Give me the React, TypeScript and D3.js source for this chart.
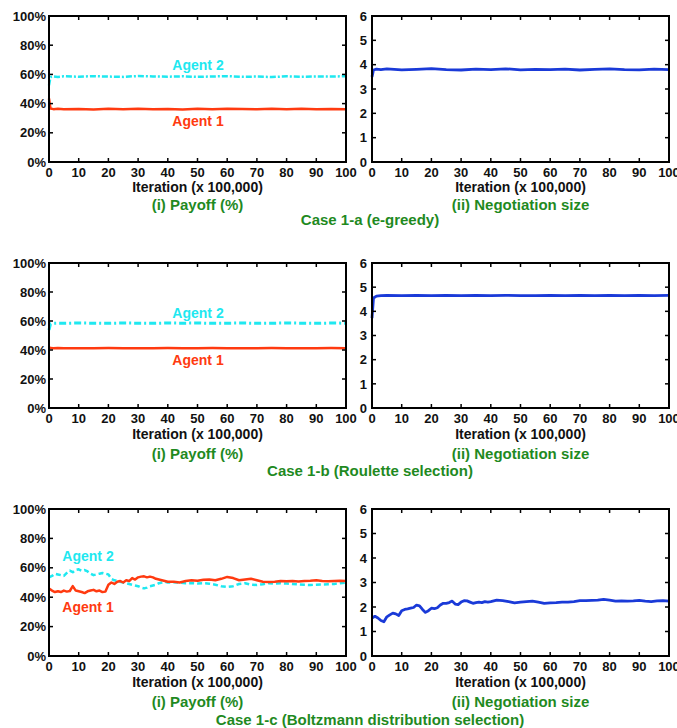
import React from "react";
import * as d3 from "d3";

// ---------- data ----------
const ITER_TICKS = [0, 10, 20, 30, 40, 50, 60, 70, 80, 90, 100];
const PAYOFF_TICKS = [0, 20, 40, 60, 80, 100];
const SIZE_TICKS = [0, 1, 2, 3, 4, 5, 6];

const X_FLAT = [0, 0.5, 1.5, 3, 5, 10, 15, 20, 25, 30, 35, 40, 45, 50, 55, 60, 65, 70, 75, 80, 85, 90, 95, 100];

// Case 1-a
const A1_AGENT1 = [43.5, 36.6, 36.2, 36.4, 36.1, 36.3, 36.0, 36.4, 36.2, 36.5, 36.1, 36.3, 36.0, 36.4, 36.2, 36.5, 36.3, 36.1, 36.4, 36.2, 36.5, 36.2, 36.3, 36.1];
const A1_AGENT2 = [52.5, 58.2, 58.6, 58.3, 58.7, 58.4, 58.8, 58.5, 58.3, 58.9, 58.6, 58.4, 58.7, 58.3, 58.6, 58.8, 58.4, 58.5, 58.2, 58.7, 58.4, 58.6, 58.5, 58.8];
const A1_SIZE = [3.5, 3.78, 3.82, 3.8, 3.83, 3.79, 3.81, 3.84, 3.8, 3.78, 3.82, 3.8, 3.83, 3.79, 3.81, 3.8, 3.82, 3.78, 3.81, 3.83, 3.8, 3.79, 3.82, 3.8];

// Case 1-b
const B1_AGENT1 = [41.8, 41.3, 41.2, 41.3, 41.2, 41.25, 41.2, 41.3, 41.2, 41.25, 41.2, 41.3, 41.2, 41.25, 41.3, 41.2, 41.25, 41.2, 41.3, 41.2, 41.25, 41.2, 41.3, 41.2];
const B1_AGENT2 = [53.8, 58.0, 58.4, 58.5, 58.4, 58.6, 58.5, 58.4, 58.6, 58.5, 58.4, 58.6, 58.5, 58.6, 58.4, 58.5, 58.6, 58.4, 58.5, 58.6, 58.5, 58.4, 58.6, 58.5];
const B1_SIZE = [3.72, 4.55, 4.63, 4.65, 4.66, 4.65, 4.66, 4.65, 4.66, 4.65, 4.66, 4.65, 4.66, 4.65, 4.65, 4.66, 4.65, 4.66, 4.65, 4.66, 4.65, 4.66, 4.65, 4.66];

// Case 1-c
const X_C = [
  0, 1, 2, 3, 4, 5, 6, 7, 8, 9, 10, 11, 12, 13, 14, 15, 16, 17, 18, 19, 20,
  21, 22, 23, 24, 25, 26, 27, 28, 29, 30, 31, 32, 33, 34, 35, 36, 37, 38, 39, 40,
  42, 44, 46, 48, 50, 52, 54, 56, 58, 60, 62, 64, 66, 68, 70, 72, 74, 76, 78, 80,
  82, 84, 86, 88, 90, 92, 94, 96, 98, 100,
];
const C1_AGENT1 = [
  46, 44.5, 43.5, 44, 43.5, 44.5, 43.8, 44.2, 47.5, 44.5, 44, 43.5, 42.8, 44, 44.5, 45, 44, 44.5, 43.5, 43.8, 48.5,
  50, 49, 50.5, 51, 50, 51.5, 51, 53, 52, 53.5, 54, 54.2, 53.5, 54, 53.5, 52.5, 52, 51.5, 51, 50.5,
  50.5, 50, 51, 51.5, 51.2, 51.8, 52, 51.5, 52.5, 53.8, 53, 51.5, 52, 52.5, 51.5, 50.5, 50.3, 50.5, 51, 50.8,
  51, 50.7, 51, 51.2, 51.5, 51, 50.8, 51, 51.2, 51,
];
const C1_AGENT2 = [
  53.5, 54.5, 56, 55.5, 55, 54.5, 56.5, 58, 57, 58.5, 59, 58, 58.5, 57.5, 56, 55, 55.5, 56, 56.5, 56, 55.5,
  52.5, 51.5, 51, 50.5, 50, 49.5, 49, 48.5, 48, 47.5, 46.5, 46, 46.5, 47.5, 48, 48.5, 49.5, 50, 50.5, 50,
  50.2, 50, 49.5, 49.6, 49.3, 49.5, 49.2, 48.5, 47.5, 47, 47.5, 49, 49.5, 48.5, 48.3, 48.8, 49.5, 49.2, 49.5, 49.3,
  49, 48.7, 48.5, 48.3, 48.5, 48.6, 48.8, 49, 49.5, 50,
];
const C1_SIZE = [
  1.55, 1.62, 1.55, 1.45, 1.4, 1.6, 1.68, 1.75, 1.72, 1.65, 1.85, 1.9, 1.92, 1.95, 1.98, 2.08, 2.05, 1.9, 1.78, 1.85, 1.95,
  1.93, 1.97, 2.08, 2.15, 2.15, 2.18, 2.24, 2.12, 2.1, 2.2, 2.26, 2.25, 2.2, 2.15, 2.18, 2.2, 2.18, 2.22, 2.2, 2.22,
  2.28, 2.26, 2.22, 2.17, 2.2, 2.22, 2.24, 2.2, 2.15, 2.17, 2.18, 2.2, 2.2, 2.22, 2.26, 2.26, 2.27, 2.28, 2.31, 2.28,
  2.24, 2.25, 2.24, 2.25, 2.27, 2.24, 2.22, 2.25, 2.26, 2.24,
];

const CASE_TITLES = ["Case 1-a (e-greedy)", "Case 1-b (Roulette selection)", "Case 1-c (Boltzmann distribution selection)"];
const PAYOFF_TITLE = "(i) Payoff (%)";
const SIZE_TITLE = "(ii) Negotiation size";
const X_TITLE = "Iteration (x 100,000)";

// ---------- styling / layout ----------
const FONT = "'Liberation Sans', Arial, Helvetica, sans-serif";
const RED = "#ff3a10";
const CYAN = "#1fe8f0";
const BLUE = "#1a3ad8";
const GREEN = "#1f8a1f";

const COLS = [
  { left: 49, right: 346, labelRight: 46 },
  { left: 372, right: 669, labelRight: 367 },
];
const ROWS = [
  { top: 16, bottom: 162, tick: 177, xt: 191.5, sub: 209.5, cas: 224.5, a2: [198, 69.5], a1: [198, 125.5], dash: "6,2,2,2", cw: 2.5 },
  { top: 263, bottom: 408, tick: 423, xt: 439, sub: 458.5, cas: 475.5, a2: [198, 317.5], a1: [198, 364.5], dash: "7,3,2,3", cw: 3 },
  { top: 509, bottom: 656, tick: 671, xt: 686.5, sub: 707, cas: 724.5, a2: [88, 561], a1: [88, 611.5], dash: "5,3", cw: 2.5 },
];

type Series = { xs: number[]; ys: number[]; color: string; width: number; dash?: string };

function Panel(props: {
  col: (typeof COLS)[number];
  row: (typeof ROWS)[number];
  yDomain: [number, number];
  yTicks: number[];
  yFmt: (v: number) => string;
  series: Series[];
  title: string;
}) {
  const { col, row, yDomain, yTicks, yFmt, series, title } = props;
  const x = d3.scaleLinear().domain([0, 100]).range([col.left, col.right]);
  const y = d3.scaleLinear().domain(yDomain).range([row.bottom, row.top]);
  const tl = 4;
  return (
    <g>
      {series.map((s, i) => {
        const pts: [number, number][] = s.xs.map((xv, j) => [xv, s.ys[j]]);
        const line = d3
          .line<[number, number]>()
          .x((d) => x(d[0]))
          .y((d) => y(d[1]));
        return (
          <path
            key={i}
            d={line(pts) || ""}
            fill="none"
            stroke={s.color}
            strokeWidth={s.width}
            strokeDasharray={s.dash}
            strokeLinejoin="round"
          />
        );
      })}
      {/* ticks */}
      {yTicks.map((t) => (
        <g key={"y" + t}>
          <line x1={col.left} x2={col.left + tl} y1={y(t)} y2={y(t)} stroke="#000" strokeWidth={1.5} />
          <line x1={col.right - tl} x2={col.right} y1={y(t)} y2={y(t)} stroke="#000" strokeWidth={1.5} />
          <text
            x={col.labelRight}
            y={y(t)}
            dy="0.36em"
            textAnchor="end"
            fontFamily={FONT}
            fontWeight="bold"
            fontSize={13}
            fill="#111"
          >
            {yFmt(t)}
          </text>
        </g>
      ))}
      {ITER_TICKS.map((t) => (
        <g key={"x" + t}>
          <line x1={x(t)} x2={x(t)} y1={row.bottom} y2={row.bottom - tl} stroke="#000" strokeWidth={1.5} />
          <line x1={x(t)} x2={x(t)} y1={row.top} y2={row.top + tl} stroke="#000" strokeWidth={1.5} />
          <text
            x={x(t)}
            y={row.tick}
            textAnchor="middle"
            fontFamily={FONT}
            fontWeight="bold"
            fontSize={13}
            fill="#111"
          >
            {t}
          </text>
        </g>
      ))}
      <rect
        x={col.left}
        y={row.top}
        width={col.right - col.left}
        height={row.bottom - row.top}
        fill="none"
        stroke="#000"
        strokeWidth={2}
      />
      <text
        x={(col.left + col.right) / 2}
        y={row.xt}
        textAnchor="middle"
        fontFamily={FONT}
        fontWeight="bold"
        fontSize={14}
        fill="#111"
      >
        {X_TITLE}
      </text>
      <text
        x={(col.left + col.right) / 2}
        y={row.sub}
        textAnchor="middle"
        fontFamily={FONT}
        fontWeight="bold"
        fontSize={15}
        fill={GREEN}
      >
        {title}
      </text>
    </g>
  );
}

const PAYOFFS = [
  { a1: A1_AGENT1, a2: A1_AGENT2, xs: X_FLAT },
  { a1: B1_AGENT1, a2: B1_AGENT2, xs: X_FLAT },
  { a1: C1_AGENT1, a2: C1_AGENT2, xs: X_C },
];
const SIZES = [
  { v: A1_SIZE, xs: X_FLAT },
  { v: B1_SIZE, xs: X_FLAT },
  { v: C1_SIZE, xs: X_C },
];

export default function App() {
  return (
    <svg
      width={677}
      height={728}
      viewBox="0 0 677 728"
      style={{ position: "absolute", left: 0, top: 0, background: "#fff" }}
    >
      <rect x={0} y={0} width={677} height={728} fill="#fff" />
      {ROWS.map((row, r) => (
        <g key={r}>
          <Panel
            col={COLS[0]}
            row={row}
            yDomain={[0, 100]}
            yTicks={PAYOFF_TICKS}
            yFmt={(v) => v + "%"}
            title={PAYOFF_TITLE}
            series={[
              { xs: PAYOFFS[r].xs, ys: PAYOFFS[r].a2, color: CYAN, width: row.cw, dash: row.dash },
              { xs: PAYOFFS[r].xs, ys: PAYOFFS[r].a1, color: RED, width: 2.5 },
            ]}
          />
          <Panel
            col={COLS[1]}
            row={row}
            yDomain={[0, 6]}
            yTicks={SIZE_TICKS}
            yFmt={(v) => String(v)}
            title={SIZE_TITLE}
            series={[{ xs: SIZES[r].xs, ys: SIZES[r].v, color: BLUE, width: 2.8 }]}
          />
          <text x={row.a2[0]} y={row.a2[1]} textAnchor="middle" fontFamily={FONT} fontWeight="bold" fontSize={14} fill={CYAN}>
            Agent 2
          </text>
          <text x={row.a1[0]} y={row.a1[1]} textAnchor="middle" fontFamily={FONT} fontWeight="bold" fontSize={14} fill={RED}>
            Agent 1
          </text>
          <text x={370} y={row.cas} textAnchor="middle" fontFamily={FONT} fontWeight="bold" fontSize={15} fill={GREEN}>
            {CASE_TITLES[r]}
          </text>
        </g>
      ))}
    </svg>
  );
}
